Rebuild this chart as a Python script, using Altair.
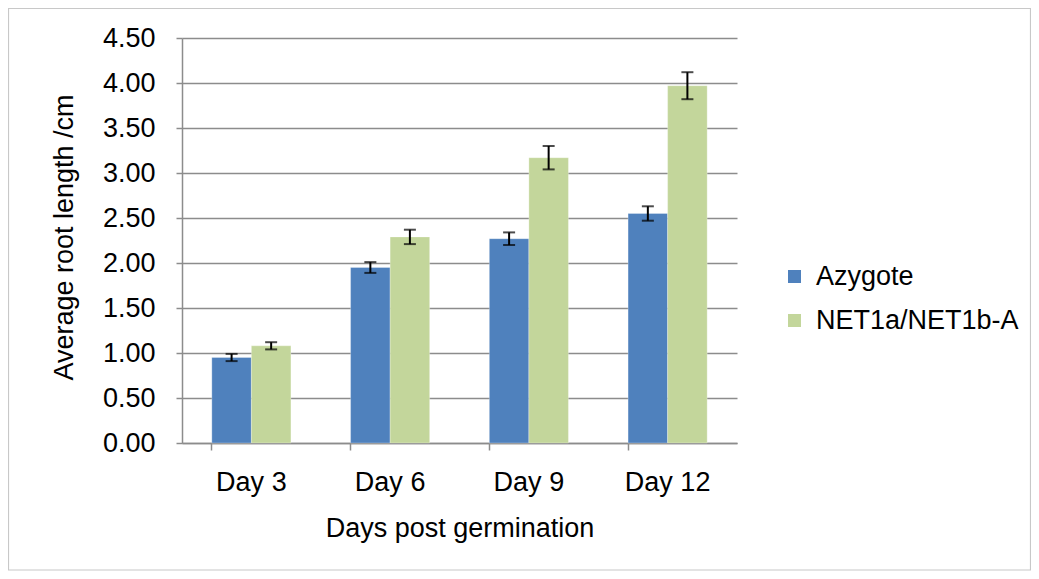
import altair as alt
import pandas as pd

days = ["Day 3", "Day 6", "Day 9", "Day 12"]
series = ["Azygote", "NET1a/NET1b-A"]
azygote = [0.95, 1.95, 2.27, 2.55]
azygote_err = [0.04, 0.06, 0.07, 0.08]
net = [1.08, 2.29, 3.17, 3.97]
net_err = [0.04, 0.08, 0.13, 0.15]
y_ticks = [0, 0.5, 1.0, 1.5, 2.0, 2.5, 3.0, 3.5, 4.0, 4.5]
colors = ["#4F81BD", "#C3D69B"]

rows = []
for d, v, e in zip(days, azygote, azygote_err):
    rows.append({"day": d, "series": series[0], "value": v, "lo": v - e, "hi": v + e})
for d, v, e in zip(days, net, net_err):
    rows.append({"day": d, "series": series[1], "value": v, "lo": v - e, "hi": v + e})
df = pd.DataFrame(rows)

FONT = "Liberation Sans"
FS = 27

x = alt.X("day:N", sort=days, title="Days post germination",
          scale=alt.Scale(paddingInner=0.43, paddingOuter=0.215),
          axis=alt.Axis(labelAngle=0, bandPosition=0, labelPadding=19, titlePadding=20,
                        domainColor="#8c8c8c", domainWidth=1.5, tickColor="#8c8c8c",
                        tickWidth=1.5, tickSize=7, grid=False))
xo = alt.XOffset("series:N", sort=series, scale=alt.Scale(paddingInner=0, paddingOuter=0))

base = alt.Chart(df)

# light outer frame around the whole figure (decoration)
frame = alt.Chart(alt.Data(values=[{}])).mark_rect(
    fill=None, stroke="#c8c8c8", strokeWidth=1.2, clip=False
).encode(x=alt.value(-173.5), x2=alt.value(848.5), y=alt.value(-29.5), y2=alt.value(532))

bars = base.mark_bar(stroke="white", strokeOpacity=0.35, strokeWidth=0.8).encode(
    x=x,
    xOffset=xo,
    y=alt.Y("value:Q", title="Average root length /cm",
            scale=alt.Scale(domain=[0, 4.5], nice=False),
            axis=alt.Axis(values=y_ticks, format=".2f", labelPadding=21,
                          gridColor="#8c8c8c", gridWidth=1.5,
                          domainColor="#8c8c8c", domainWidth=1.5,
                          tickColor="#8c8c8c", tickWidth=1.5, tickSize=6,
                          titleX=-104, titleY=199, titleAngle=270)),
    color=alt.Color("series:N", sort=series,
                    scale=alt.Scale(domain=series, range=colors),
                    legend=alt.Legend(title=None, orient="none", legendX=599, legendY=225,
                                      padding=0, symbolType="square", symbolSize=169,
                                      symbolStrokeWidth=0, labelFontSize=FS, labelOffset=8,
                                      rowPadding=16, labelFont=FONT, labelColor="black",
                                      labelLimit=400)),
)

rules = base.mark_rule(color="black", strokeWidth=2).encode(
    x=alt.X("day:N", sort=days), xOffset=xo, y="lo:Q", y2="hi:Q")
caps_lo = base.mark_tick(color="black", thickness=2, size=12, orient="horizontal").encode(
    x=alt.X("day:N", sort=days), xOffset=xo, y="lo:Q")
caps_hi = base.mark_tick(color="black", thickness=2, size=12, orient="horizontal").encode(
    x=alt.X("day:N", sort=days), xOffset=xo, y="hi:Q")

chart = alt.layer(frame, bars, rules, caps_lo, caps_hi).properties(
    width=555, height=405,
    autosize=alt.AutoSizeParams(type="none"),
    padding={"left": 174, "top": 30, "right": 294, "bottom": 128},
    background="white",
).configure_view(stroke=None).configure_axis(
    labelFont=FONT, titleFont=FONT, labelFontSize=FS, titleFontSize=FS,
    labelColor="black", titleColor="black", titleFontWeight="normal",
)

chart.save("out.html", embed_options={"renderer": "svg", "actions": False})
